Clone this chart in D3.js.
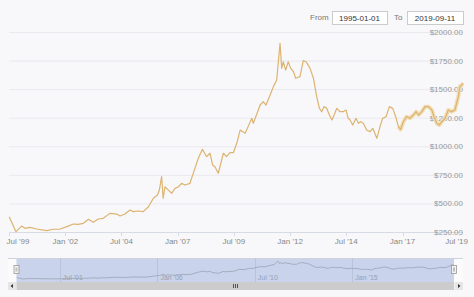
<!DOCTYPE html>
<html>
<head>
<meta charset="utf-8">
<script src="https://cdn.jsdelivr.net/npm/d3@7"></script>
<style>
  body { margin: 0; background: #f8f8fa; }
  svg { display: block; font-family: "Liberation Sans", Arial, sans-serif; }
</style>
</head>
<body>
<div id="chart"></div>
<script>
// dates and prices
var dates = [
  "1999-07-04","1999-10-22","2000-01-22","2000-03-16","2000-06-05","2000-09-23","2001-03-05","2001-06-20",
  "2001-10-08","2002-01-26","2002-05-10","2002-07-29","2002-10-22","2003-01-12","2003-04-01","2003-06-20",
  "2003-09-09","2003-12-27","2004-04-15","2004-06-09","2004-08-28","2004-11-18","2005-01-12","2005-04-01",
  "2005-06-20","2005-09-13","2005-12-02","2006-02-07","2006-03-09","2006-04-15","2006-05-10","2006-06-09",
  "2006-08-03","2006-09-27","2006-11-18","2007-01-12","2007-03-05","2007-04-29","2007-07-19","2007-10-08",
  "2007-12-02","2008-02-07","2008-04-15","2008-06-09","2008-07-22","2008-08-28","2008-10-22","2009-01-12",
  "2009-03-05","2009-04-29","2009-06-24","2009-08-18","2009-10-12","2010-01-01","2010-04-19","2010-05-14",
  "2010-09-02","2010-10-22","2010-12-06","2011-02-11","2011-04-05","2011-05-29","2011-07-22","2011-08-18",
  "2011-09-13","2011-10-22","2011-12-02","2012-01-12","2012-02-25","2012-04-01","2012-06-09","2012-08-03",
  "2012-09-17","2012-11-21","2013-01-15","2013-03-09","2013-04-22","2013-05-29","2013-07-05","2013-08-18",
  "2013-10-01","2013-11-11","2013-12-17","2014-01-30","2014-03-20","2014-05-14","2014-06-27","2014-08-03",
  "2014-09-02","2014-10-15","2014-12-09","2015-01-15","2015-02-21","2015-04-05","2015-05-29","2015-07-22",
  "2015-09-06","2015-11-11","2016-01-01","2016-02-14","2016-04-08","2016-06-02","2016-07-26","2016-09-13",
  "2016-10-26","2016-12-02","2017-01-15","2017-03-09","2017-05-03","2017-06-27","2017-08-10","2017-09-17",
  "2017-11-11","2018-01-04","2018-02-28","2018-04-22","2018-05-29","2018-07-12","2018-08-21","2018-10-01",
  "2018-11-25","2019-01-15","2019-03-09","2019-05-03","2019-06-27","2019-07-22","2019-08-21","2019-09-11"
];
var prices = [
  384, 253, 302, 282, 291, 276, 262, 274,
  276, 297, 320, 317, 326, 361, 335, 364,
  370, 413, 407, 390, 407, 442, 428, 434,
  428, 471, 545, 574, 617, 734, 545, 646,
  617, 589, 632, 646, 676, 661, 676, 807,
  895, 974, 909, 939, 836, 821, 764, 939,
  909, 944, 944, 1026, 1142, 1113, 1245, 1201,
  1361, 1390, 1361, 1449, 1522, 1580, 1901, 1682,
  1740, 1667, 1740, 1682, 1653, 1595, 1609, 1749,
  1740, 1682, 1595, 1434, 1332, 1303, 1347, 1332,
  1274, 1230, 1274, 1332, 1303, 1303, 1318, 1245,
  1230, 1186, 1245, 1201, 1215, 1201, 1142, 1128,
  1157, 1070, 1172, 1245, 1259, 1347, 1332, 1259,
  1172, 1148, 1215, 1259, 1245, 1274, 1303, 1274,
  1303, 1347, 1347, 1318, 1259, 1201, 1186, 1215,
  1245, 1318, 1303, 1318, 1434, 1522, 1536, 1552
];
var yTicks = [250, 500, 750, 1000, 1250, 1500, 1750, 2000];
var xTicks = ["1999-07-01","2002-01-01","2004-07-01","2007-01-01","2009-07-01","2012-01-01","2014-07-01","2017-01-01","2019-07-01"];
var navTicks = ["2001-07-01","2006-01-01","2010-07-01","2015-01-01"];
var rangeFrom = "1995-01-01";
var rangeTo = "2019-09-11";
var bandStart = "2016-10-01";

var W = 474, H = 297;
var parse = d3.timeParse("%Y-%m-%d");
var pts = dates.map(function(d, i) { return {date: parse(d), value: prices[i]}; });
var domain = [parse("1999-07-01"), parse(rangeTo)];

var svg = d3.select("#chart").append("svg")
  .attr("width", W)
  .attr("height", H);

svg.append("rect").attr("width", W).attr("height", H).attr("fill", "#f8f8fa");

// main scales
var x = d3.scaleTime().domain(domain).range([9, 463]);
var y = d3.scaleLinear().domain([250, 2000]).range([232, 32]);

// gridlines + y labels
svg.selectAll(".grid")
  .data(yTicks)
  .enter()
  .append("line")
    .attr("x1", 9).attr("x2", 463)
    .attr("y1", function(d) { return y(d) + 0.5; })
    .attr("y2", function(d) { return y(d) + 0.5; })
    .attr("stroke", function(d) { return d == 250 ? "#d6dbe6" : "#e9e9ee"; })
    .attr("stroke-width", 1);

svg.selectAll(".ylab")
  .data(yTicks)
  .enter()
  .append("text")
    .attr("x", 463)
    .attr("y", function(d) { return y(d) + 3; })
    .attr("text-anchor", "end")
    .attr("font-size", 8)
    .attr("fill", "#999")
    .text(function(d) { return "$" + d3.format(".2f")(d); });

// x axis labels
var fmt = function(d) { return d3.timeFormat("%b")(d) + " '" + d3.timeFormat("%y")(d); };
svg.selectAll(".xlab")
  .data(xTicks)
  .enter()
  .append("text")
    .attr("x", function(d, i) { var px = x(parse(d)); return i == 0 ? px + 9 : px - (i == xTicks.length - 1 ? 2 : 0); })
    .attr("y", 244)
    .attr("text-anchor", "middle")
    .attr("font-size", 8)
    .attr("fill", "#888")
    .text(function(d) { return fmt(parse(d)); });

svg.selectAll(".xtick")
  .data(xTicks)
  .enter()
  .append("line")
    .attr("x1", function(d) { return Math.round(x(parse(d))) + 0.5; })
    .attr("x2", function(d) { return Math.round(x(parse(d))) + 0.5; })
    .attr("y1", 232).attr("y2", 236)
    .attr("stroke", "#d6dbe6");

// price line
var line = d3.line()
  .x(function(d) { return x(d.date); })
  .y(function(d) { return y(d.value); });

var bandPts = pts.filter(function(d) { return d.date >= parse(bandStart); });
svg.append("path")
  .attr("d", line(bandPts))
  .attr("fill", "none")
  .attr("stroke", "#f1ddb3")
  .attr("stroke-width", 4)
  .attr("stroke-linejoin", "round");

svg.append("path")
  .attr("d", line(pts))
  .attr("fill", "none")
  .attr("stroke", "#dcb370")
  .attr("stroke-width", 1.2)
  .attr("stroke-linejoin", "round");

// range selector inputs
svg.append("text").attr("x", 310).attr("y", 20).attr("font-size", 8).attr("fill", "#777").text("From");
svg.append("text").attr("x", 394).attr("y", 20).attr("font-size", 8).attr("fill", "#777").text("To");
[[332, 387, rangeFrom], [407, 463, rangeTo]].forEach(function(b) {
  svg.append("rect")
    .attr("x", b[0] + 0.5).attr("y", 11.5)
    .attr("width", b[1] - b[0]).attr("height", 13)
    .attr("fill", "#fff")
    .attr("stroke", "#ccc");
  svg.append("text")
    .attr("x", (b[0] + b[1]) / 2).attr("y", 21)
    .attr("text-anchor", "middle")
    .attr("font-size", 8)
    .attr("fill", "#333")
    .text(b[2]);
});

// navigator
var nx = d3.scaleTime().domain(domain).range([16.5, 454]);
var ny = d3.scaleLinear().domain(d3.extent(prices)).range([279, 261]);

svg.append("rect").attr("x", 8).attr("y", 258).attr("width", 455).attr("height", 24).attr("fill", "#fbfbfc");
svg.append("rect").attr("x", 16.5).attr("y", 258).attr("width", 437.5).attr("height", 24).attr("fill", "#c9d3eb");
svg.append("line").attr("x1", 8).attr("x2", 463).attr("y1", 258.5).attr("y2", 258.5).attr("stroke", "#cfd3dc");

svg.selectAll(".ngrid")
  .data(navTicks)
  .enter()
  .append("line")
    .attr("x1", function(d) { return Math.round(nx(parse(d))) + 0.5; })
    .attr("x2", function(d) { return Math.round(nx(parse(d))) + 0.5; })
    .attr("y1", 258).attr("y2", 282)
    .attr("stroke", "#b9c3dd");

svg.selectAll(".nlab")
  .data(navTicks)
  .enter()
  .append("text")
    .attr("x", function(d) { return nx(parse(d)) + 3; })
    .attr("y", 280)
    .attr("font-size", 7)
    .attr("fill", "#98a0b4")
    .text(function(d) { return fmt(parse(d)); });

var nline = d3.line()
  .x(function(d) { return nx(d.date); })
  .y(function(d) { return ny(d.value); });
svg.append("path")
  .attr("d", nline(pts))
  .attr("fill", "none")
  .attr("stroke", "#9aa3b5")
  .attr("stroke-width", 0.8);

// handles
[16.5, 454].forEach(function(hx) {
  svg.append("rect")
    .attr("x", hx - 2.5).attr("y", 265.5)
    .attr("width", 5).attr("height", 8)
    .attr("fill", "#f2f2f2").attr("stroke", "#999").attr("stroke-width", 0.8);
  svg.append("line")
    .attr("x1", hx - 0.5).attr("x2", hx - 0.5).attr("y1", 267.5).attr("y2", 271.5)
    .attr("stroke", "#999").attr("stroke-width", 0.6);
  svg.append("line")
    .attr("x1", hx + 0.5).attr("x2", hx + 0.5).attr("y1", 267.5).attr("y2", 271.5)
    .attr("stroke", "#999").attr("stroke-width", 0.6);
});

// scrollbar
svg.append("rect").attr("x", 8).attr("y", 282).attr("width", 455).attr("height", 8).attr("fill", "#f2f2f2");
svg.append("rect").attr("x", 16.5).attr("y", 282).attr("width", 437.5).attr("height", 8).attr("fill", "#cccccc");
svg.append("rect").attr("x", 8).attr("y", 282).attr("width", 8).attr("height", 8).attr("fill", "#e6e6e6");
svg.append("rect").attr("x", 455).attr("y", 282).attr("width", 8).attr("height", 8).attr("fill", "#e6e6e6");
svg.append("path").attr("d", "M10.5,286 L13,284 L13,288 Z").attr("fill", "#333");
svg.append("path").attr("d", "M460.5,286 L458,284 L458,288 Z").attr("fill", "#333");
[-2, 0, 2].forEach(function(o) {
  svg.append("line")
    .attr("x1", 235.5 + o).attr("x2", 235.5 + o)
    .attr("y1", 284).attr("y2", 288)
    .attr("stroke", "#333").attr("stroke-width", 0.8);
});
</script>
</body>
</html>
